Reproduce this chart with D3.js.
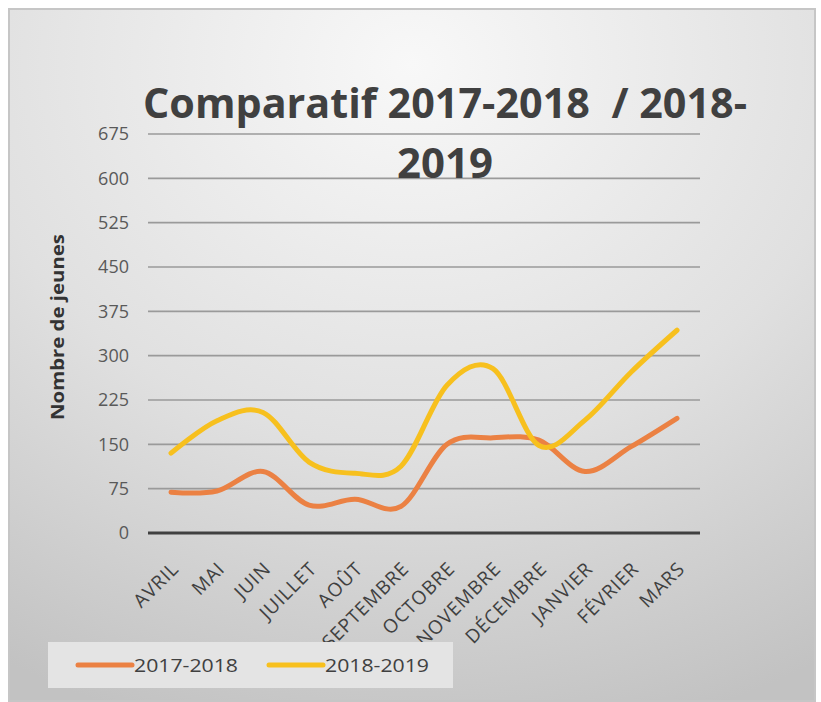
<!DOCTYPE html>
<html>
<head>
<meta charset="utf-8">
<script src="https://cdn.jsdelivr.net/npm/d3@7"></script>
<style>
  body { margin: 0; background: #fff; }
  svg { display: block; }
</style>
</head>
<body>
<div id="chart"></div>
<script>
const months = ["AVRIL", "MAI", "JUIN", "JUILLET", "AOÛT", "SEPTEMBRE", "OCTOBRE",
  "NOVEMBRE", "DÉCEMBRE", "JANVIER", "FÉVRIER", "MARS"]
const serie2017 = [69, 71, 104, 47, 57, 45, 150, 161, 157, 104, 146, 194]
const serie2018 = [135, 190, 204, 120, 101, 113, 250, 278, 148, 191, 272, 343]
const yTicks = [0, 75, 150, 225, 300, 375, 450, 525, 600, 675]
const seriesNames = ["2017-2018", "2018-2019"]
const colors = ["#EB8143", "#F7C01E"]

const width = 821
const height = 702
const margin = ({top: 134, right: 121, bottom: 169, left: 148})

const x = d3.scaleBand()
  .domain(months)
  .range([margin.left, width - margin.right])

const y = d3.scaleLinear()
  .domain([0, 675])
  .range([height - margin.bottom, margin.top])

const svg = d3.select("#chart").append("svg")
  .attr("width", width)
  .attr("height", height)

const defs = svg.append("defs")
const grad = defs.append("radialGradient")
  .attr("id", "bg")
  .attr("cx", "50%").attr("cy", "8%").attr("r", "100%")
grad.append("stop").attr("offset", "0%").attr("stop-color", "#f8f8f8")
grad.append("stop").attr("offset", "55%").attr("stop-color", "#e0e0e0")
grad.append("stop").attr("offset", "100%").attr("stop-color", "#c2c2c2")

// chart background
svg.append("rect")
  .attr("x", 9).attr("y", 9)
  .attr("width", 806).attr("height", 692)
  .attr("fill", "url(#bg)")
  .attr("stroke", "#c6c6c6")
  .attr("stroke-width", 2)

// gridlines
svg.append("g")
  .selectAll("line")
  .data(yTicks.slice(1))
  .join("line")
  .attr("x1", margin.left)
  .attr("x2", width - margin.right)
  .attr("y1", d => y(d))
  .attr("y2", d => y(d))
  .attr("stroke", "#9a9a9a")
  .attr("stroke-width", 1.6)

// y axis labels
const yAxis = g => g
  .attr("transform", `translate(${margin.left},0)`)
  .call(d3.axisLeft(y).tickValues(yTicks).tickSize(0).tickPadding(19))
  .call(g => g.select(".domain").remove())
  .call(g => g.selectAll("text")
    .attr("fill", "#595959")
    .attr("font-family", "Open Sans")
    .attr("font-size", 18))
svg.append("g").call(yAxis)

// x axis line + rotated labels
svg.append("line")
  .attr("x1", margin.left)
  .attr("x2", width - margin.right)
  .attr("y1", y(0)).attr("y2", y(0))
  .attr("stroke", "#404040")
  .attr("stroke-width", 3)

svg.append("g")
  .selectAll("text")
  .data(months)
  .join("text")
  .attr("transform", d => `translate(${x(d) + x.bandwidth() / 2 + 9},${y(0) + 37}) rotate(-45)`)
  .attr("text-anchor", "end")
  .attr("fill", "#404040")
  .attr("font-family", "Open Sans")
  .attr("font-size", 19)
  .attr("letter-spacing", 0.9)
  .text(d => d)

// title
const title = svg.append("g")
  .attr("font-family", "Open Sans")
  .attr("font-weight", 700)
  .attr("font-size", 42)
  .attr("fill", "#404040")
  .attr("text-anchor", "middle")
title.append("text")
  .attr("x", 445).attr("y", 118)
  .attr("textLength", 604)
  .attr("lengthAdjust", "spacingAndGlyphs")
  .text("Comparatif 2017-2018\u00a0\u00a0/ 2018-")
title.append("text")
  .attr("x", 445).attr("y", 178)
  .attr("textLength", 96)
  .attr("lengthAdjust", "spacingAndGlyphs")
  .text("2019")

// y axis title
svg.append("text")
  .attr("transform", `translate(64,327) rotate(-90)`)
  .attr("text-anchor", "middle")
  .attr("font-family", "Open Sans")
  .attr("font-weight", 700)
  .attr("font-size", 17)
  .attr("fill", "#333")
  .attr("textLength", 186)
  .attr("lengthAdjust", "spacingAndGlyphs")
  .text("Nombre de jeunes")

// lines
const line = d3.line()
  .x((d, i) => x(months[i]) + x.bandwidth() / 2)
  .y(d => y(d))
  .curve(d3.curveCatmullRom.alpha(0))

svg.append("g")
  .selectAll("path")
  .data([serie2017, serie2018])
  .join("path")
  .attr("d", line)
  .attr("fill", "none")
  .attr("stroke", (d, i) => colors[i])
  .attr("stroke-width", 5)
  .attr("stroke-linejoin", "round")
  .attr("stroke-linecap", "round")

// legend
const legend = svg.append("g")
legend.append("rect")
  .attr("x", 48).attr("y", 642)
  .attr("width", 405).attr("height", 46)
  .attr("fill", "#e4e4e4")
const items = legend.selectAll("g")
  .data(seriesNames)
  .join("g")
  .attr("transform", (d, i) => `translate(${78 + i * 191},665)`)
items.append("line")
  .attr("x1", 0).attr("x2", 54)
  .attr("stroke", (d, i) => colors[i])
  .attr("stroke-width", 5)
  .attr("stroke-linecap", "round")
items.append("text")
  .attr("x", 56)
  .attr("dy", "0.35em")
  .attr("font-family", "Open Sans")
  .attr("font-size", 19)
  .attr("fill", "#404040")
  .attr("textLength", 104)
  .attr("lengthAdjust", "spacingAndGlyphs")
  .text(d => d)
</script>
</body>
</html>
